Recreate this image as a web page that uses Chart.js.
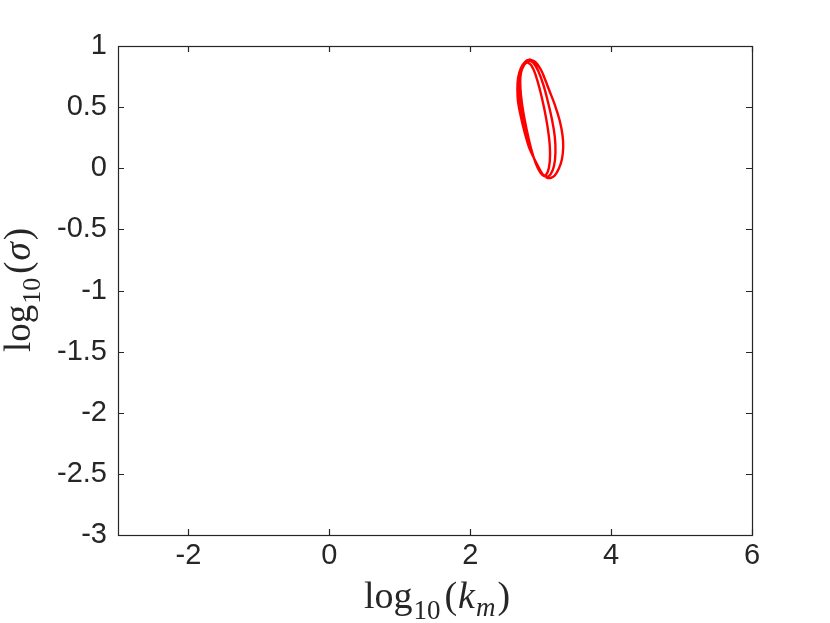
<!DOCTYPE html>
<html>
<head>
<meta charset="utf-8">
<script src="https://cdn.jsdelivr.net/npm/chart.js@4/dist/chart.umd.min.js"></script>
<style>
html,body{margin:0;padding:0;background:#fff;}
#wrap{width:830px;height:623px;}
</style>
</head>
<body>
<div id="wrap"><canvas id="c" width="830" height="623"></canvas></div>
<script>
// Data: log10(k_m) vs log10(sigma), three overlapping loops
const loopAx = [2.85,2.93,3.00,3.06,3.12,3.20,3.27,3.31,3.32,3.30,3.26,3.20,3.14,3.08,3.03,2.96,2.89,2.83,2.77,2.72,2.68,2.67,2.68,2.72,2.78,2.85];
const loopAy = [0.89,0.865,0.81,0.73,0.64,0.52,0.39,0.27,0.17,0.07,0.00,-0.06,-0.08,-0.075,-0.05,0.02,0.10,0.18,0.30,0.42,0.54,0.64,0.74,0.82,0.87,0.89];
const loopBx = [2.83,2.90,2.97,3.04,3.10,3.16,3.20,3.21,3.19,3.14,3.08,3.02,2.95,2.88,2.81,2.75,2.71,2.69,2.70,2.73,2.78,2.83];
const loopBy = [0.885,0.86,0.79,0.68,0.55,0.40,0.26,0.13,0.02,-0.05,-0.07,-0.05,0.02,0.12,0.25,0.39,0.52,0.64,0.74,0.82,0.87,0.885];
const loopCx = [2.81,2.87,2.93,2.99,3.05,3.10,3.13,3.13,3.10,3.05,3.00,2.93,2.86,2.80,2.75,2.72,2.71,2.72,2.76,2.81];
const loopCy = [0.87,0.84,0.76,0.64,0.49,0.33,0.18,0.06,-0.03,-0.06,-0.04,0.04,0.17,0.32,0.47,0.60,0.70,0.78,0.84,0.87];
const xTicks = [-2,0,2,4,6];
const yTicks = [-3,-2.5,-2,-1.5,-1,-0.5,0,0.5,1];
const xTitle = {base:'log', sub:'10', arg:'k', argSub:'m'};
const yTitle = {base:'log', sub:'10', arg:'σ', argSub:''};

const pts = [];
[[loopAx,loopAy],[loopBx,loopBy],[loopCx,loopCy]].forEach(([xs,ys])=>{
  xs.forEach((x,i)=>pts.push({x:x,y:ys[i]}));
});

const AX = '#262626';
const L = 118, R = 752, T = 46, B = 535;

function drawTitle(ctx, t, size) {
  const fam = '"Liberation Serif", "DejaVu Serif", serif';
  const ss = Math.round(size*0.7);
  const parts = [
    {s:t.base, f:size+'px '+fam, dy:0, gap:1},
    {s:t.sub, f:ss+'px '+fam, dy:size*0.28, gap:4},
    {s:'(', f:size+'px '+fam, dy:0, gap:1},
    {s:t.arg, f:'italic '+size+'px '+fam, dy:0, gap:t.argSub?1:2},
  ];
  if (t.argSub) parts.push({s:t.argSub, f:'italic '+ss+'px '+fam, dy:size*0.2, gap:2});
  parts.push({s:')', f:size+'px '+fam, dy:0, gap:0});
  let w = 0;
  parts.forEach(p=>{ctx.font=p.f; p.w=ctx.measureText(p.s).width; w+=p.w+p.gap;});
  let x = -w/2;
  ctx.textBaseline = 'alphabetic';
  ctx.textAlign = 'left';
  parts.forEach(p=>{ctx.font=p.f; ctx.fillText(p.s, x, p.dy); x+=p.w+p.gap;});
}

const boxPlugin = {
  id:'box',
  afterDraw(chart){
    const ctx = chart.ctx;
    const xs = chart.scales.x, ys = chart.scales.y;
    const a = chart.chartArea;
    ctx.save();
    ctx.strokeStyle = AX;
    ctx.lineWidth = 1.2;
    ctx.strokeRect(Math.round(a.left)+0.5, Math.round(a.top)+0.5, Math.round(a.right-a.left), Math.round(a.bottom-a.top));
    const tl = 6;
    ctx.beginPath();
    xTicks.forEach(v=>{
      const px = Math.round(xs.getPixelForValue(v))+0.5;
      ctx.moveTo(px, a.bottom); ctx.lineTo(px, a.bottom-tl);
      ctx.moveTo(px, a.top); ctx.lineTo(px, a.top+tl);
    });
    yTicks.forEach(v=>{
      const py = Math.round(ys.getPixelForValue(v))+0.5;
      ctx.moveTo(a.left, py); ctx.lineTo(a.left+tl, py);
      ctx.moveTo(a.right, py); ctx.lineTo(a.right-tl, py);
    });
    ctx.stroke();
    ctx.fillStyle = AX;
    ctx.save();
    ctx.translate(437, 608);
    drawTitle(ctx, xTitle, 38);
    ctx.restore();
    ctx.save();
    ctx.translate(30, 290);
    ctx.rotate(-Math.PI/2);
    drawTitle(ctx, yTitle, 37);
    ctx.restore();
    ctx.restore();
  }
};

new Chart(document.getElementById('c'), {
  type:'scatter',
  data:{datasets:[{
    data:pts,
    showLine:true,
    borderColor:'#ff0000',
    backgroundColor:'#ff0000',
    borderWidth:2.4,
    pointRadius:0,
    tension:0.4,
    fill:false
  }]},
  options:{
    responsive:false,
    animation:false,
    layout:{padding:{left:0,right:830-R,top:T,bottom:0}},
    plugins:{legend:{display:false},tooltip:{enabled:false}},
    scales:{
      x:{
        type:'linear', min:-3, max:6,
        afterBuildTicks(s){ s.ticks = xTicks.map(v=>({value:v})); },
        afterFit(s){ s.height = 623-B; },
        grid:{display:false, drawTicks:false},
        border:{display:false},
        ticks:{color:AX, padding:4, font:{family:'"Liberation Sans", Arial, sans-serif', size:29}, maxRotation:0, callback:v=>String(v)}
      },
      y:{
        type:'linear', min:-3, max:1,
        afterBuildTicks(s){ s.ticks = yTicks.map(v=>({value:v})); },
        afterFit(s){ s.width = L; },
        grid:{display:false, drawTicks:false},
        border:{display:false},
        ticks:{color:AX, padding:11, font:{family:'"Liberation Sans", Arial, sans-serif', size:29}, callback:v=>String(v)}
      }
    }
  },
  plugins:[boxPlugin]
});
</script>
</body>
</html>
